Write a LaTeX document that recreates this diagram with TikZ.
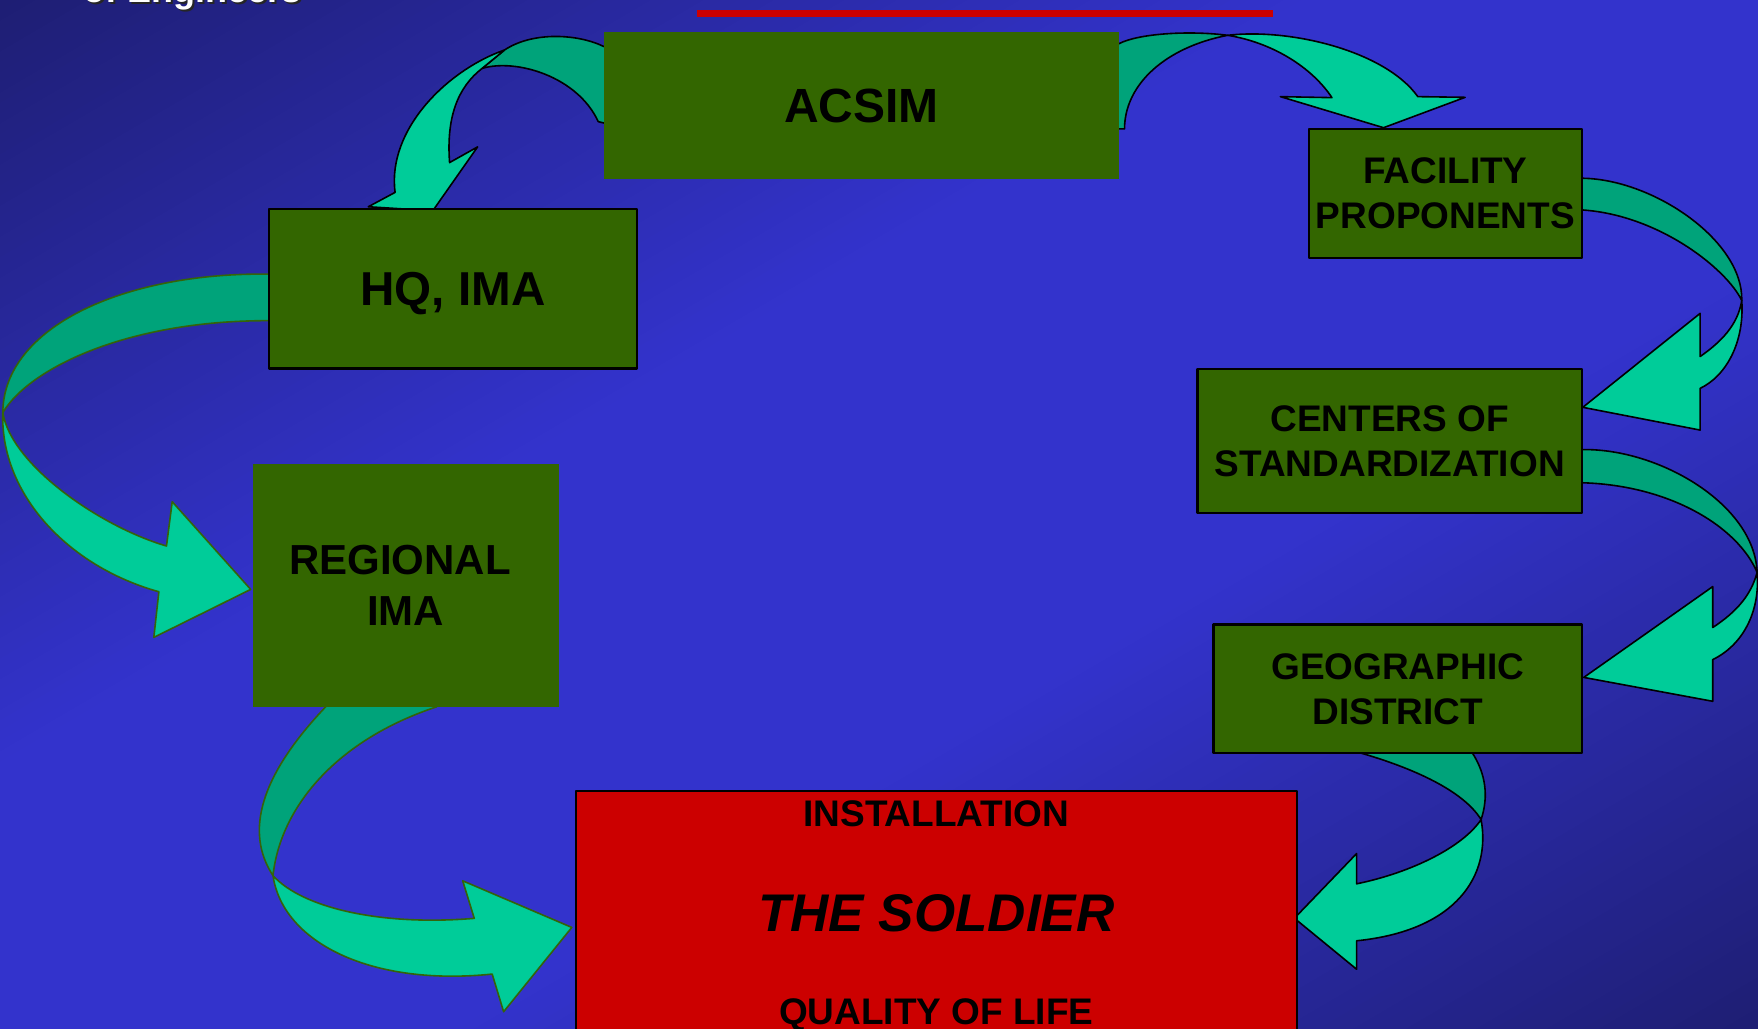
\documentclass[tikz,border=0pt]{standalone}
\usepackage{fontspec}
\setmainfont{Liberation Sans}
\definecolor{bgmid}{RGB}{51,51,204}
\definecolor{bgdark}{RGB}{30,30,115}
\definecolor{boxgreen}{RGB}{51,102,0}
\definecolor{arrowlight}{RGB}{0,204,153}
\definecolor{arrowdark}{RGB}{0,163,122}
\definecolor{arrowedge}{RGB}{52,100,10}
\definecolor{redbox}{RGB}{204,0,0}
\begin{document}
\begin{tikzpicture}[x=1.12117pt,y=-1.12117pt,line join=round,
  box/.style={rectangle,draw=black,line width=2.4pt,fill=boxgreen,inner sep=0pt,align=center,
    text depth=0pt,font=\fontsize{37}{45}\selectfont\bfseries},
  plainbox/.style={box,draw=none},
  bandlight/.style={fill=arrowlight,draw=black,line width=1.6pt},
  banddark/.style={fill=arrowdark,draw=black,line width=1.6pt},
  greenedge/.style={draw=arrowedge},
  redtext/.style={inner sep=0pt,anchor=base,font=\fontsize{37}{45}\selectfont\bfseries}]
\useasboundingbox (0,0) rectangle (1568,917.79);
\clip (0,0) rectangle (1568,917.79);
% diagonal background gradient
\foreach \i in {0,...,199} {
  \pgfmathsetmacro\s{\i/100}
  \pgfmathsetmacro\mix{min(100,135*(1-abs(\s+0.005-1)))}
  \fill[bgmid!\mix!bgdark] ({\s*1568},0) -- ({(\s+0.013)*1568},0) -- ({(\s+0.013-1)*1568},917.79) -- ({(\s-1)*1568},917.79) -- cycle;
}

% title remnant
\node[anchor=base west,inner sep=0pt,font=\fontsize{36}{40}\selectfont\bfseries,text=black!85]
  at ([xshift=2pt,yshift=-2pt]74,2.2) {of Engineers};
\node (title) [anchor=base west,inner sep=0pt,font=\fontsize{36}{40}\selectfont\bfseries,text=white]
  at (74,2.2) {of Engineers};

% red rule
\fill[redbox] (622,8.9) rectangle (1135.8,15.5);

% ACSIM -> HQ
\draw[banddark] (548,46) -- (538.8,41.6) .. controls (515,30) and (475,28) .. (450,44.6) -- (430,61)
  .. controls (460,52) and (515,68) .. (533.6,108.5) -- (548,112) -- cycle;
\draw[bandlight] (450,44.6) .. controls (400,62) and (345,115) .. (352.4,171.6)
  -- (328.5,184.4) -- (386,188) -- (426,131) -- (401,145)
  .. controls (398,105) and (408,78) .. (430,61) -- cycle;

% ACSIM -> FACILITY
\draw[banddark] (985,115) -- (1003,115) .. controls (1003,75) and (1040,42) .. (1095,31.5)
  .. controls (1060,27) and (1015,30) .. (998,39) -- (985,44) -- cycle;
\draw[bandlight] (1095,31.5) .. controls (1150,25) and (1235,45) .. (1264.6,86.2)
  -- (1306.8,86.8) -- (1234,113.9) -- (1142,86.2) -- (1188,87.1)
  .. controls (1170,60) and (1135,38) .. (1095,31.5) -- cycle;

% FACILITY -> CENTERS
\draw[banddark] (1400,159) -- (1411.7,159) .. controls (1475,160) and (1555,215) .. (1553.5,268)
  .. controls (1540,240) and (1480,192) .. (1411.7,187.3) -- (1400,187.3) -- cycle;
\draw[bandlight] (1553.5,268) .. controls (1556,305) and (1540,335) .. (1516.4,346.4)
  -- (1516.4,383.6) -- (1411.7,363.3) -- (1516.4,279.5) -- (1516.4,318)
  .. controls (1535,305) and (1550,290) .. (1553.5,268) -- cycle;

% CENTERS -> GEOGRAPHIC
\draw[banddark] (1400,401) -- (1411.7,401) .. controls (1480,400) and (1565,450) .. (1567.2,510.5)
  .. controls (1550,470) and (1490,433) .. (1411.7,430.6) -- (1400,430.6) -- cycle;
\draw[bandlight] (1567.2,510.5) .. controls (1570,545) and (1555,575) .. (1527.6,588.3)
  -- (1527.6,625.5) -- (1412.6,604.2) -- (1527.6,523.2) -- (1527.6,559.7)
  .. controls (1550,545) and (1562,530) .. (1567.2,510.5) -- cycle;

% GEOGRAPHIC -> INSTALLATION
\draw[banddark] (1213.2,660) -- (1213.2,671.5) .. controls (1260,685) and (1305,705) .. (1321,731)
  .. controls (1328,710) and (1325,690) .. (1313.2,671.5) -- (1313.2,660) -- cycle;
\draw[bandlight] (1321,731) .. controls (1330,780) and (1300,830) .. (1210,839.1)
  -- (1210,864.5) -- (1154.5,819) -- (1210,761.3) -- (1210,788.3)
  .. controls (1260,778) and (1305,755) .. (1321,731) -- cycle;

% HQ -> REGIONAL
\draw[banddark,greenedge] (250,244.5) -- (239,244.5) .. controls (110,243) and (3,292) .. (2.5,368)
  .. controls (25,330) and (110,286) .. (239,286) -- (250,286) -- cycle;
\draw[bandlight,greenedge] (2.5,368) .. controls (0,440) and (60,505) .. (141.7,527.8)
  -- (137.2,568.5) -- (223.6,525.7) -- (153.6,447.5) -- (148.5,487)
  .. controls (90,470) and (10,415) .. (2.5,368) -- cycle;

% REGIONAL -> INSTALLATION
\draw[banddark,greenedge] (290.5,620) -- (290.5,630.4) .. controls (232,692) and (218,742) .. (243.5,781)
  .. controls (250,720) and (300,660) .. (389.5,630.4) -- (389.5,620) -- cycle;
\draw[bandlight,greenedge] (243.5,781) .. controls (252,840) and (330,880) .. (439,868.8)
  -- (449.2,902.4) -- (510,827.2) -- (412.7,785.6) -- (423,819.1)
  .. controls (340,826) and (270,810) .. (243.5,781) -- cycle;

% boxes
\node (acsim) [plainbox,minimum width=514.2pt,minimum height=146.8pt,font=\fontsize{48}{52}\selectfont\bfseries]
  at (768.3,93.95) {ACSIM};
\node (hq) [box,minimum width=367.7pt,minimum height=159.4pt,font=\fontsize{47.6}{52}\selectfont\bfseries]
  at (404,257.5) {HQ, IMA};
\node (regional) [plainbox,minimum width=306.2pt,minimum height=242.4pt,font=\fontsize{42}{50.7}\selectfont\bfseries]
  at (361.85,522.3) {REGIONAL\hspace*{11.7pt}\\IMA};
\node (facility) [box,minimum width=273.2pt,minimum height=128.7pt] at (1289.15,172.5) {FACILITY\\PROPONENTS};
\node (centers) [box,minimum width=384.6pt,minimum height=144pt] at (1239.5,393.3) {CENTERS OF\\STANDARDIZATION};
\node (geographic) [box,minimum width=368.6pt,minimum height=128.2pt] at (1246.6,614.35) {GEOGRAPHIC\\DISTRICT};
\node (installation) [box,fill=redbox,minimum width=720.9pt,minimum height=257.5pt] at (835.1,820.15) {};
\node (insttext) [redtext] at (835.1,736.8) {INSTALLATION};
\node (soldier) [redtext,font=\fontsize{53}{58}\selectfont\bfseries\itshape] at (835.1,830.5) {THE SOLDIER};
\node (qol) [redtext] at (835.1,913.7) {QUALITY OF LIFE};
\end{tikzpicture}
\end{document}
